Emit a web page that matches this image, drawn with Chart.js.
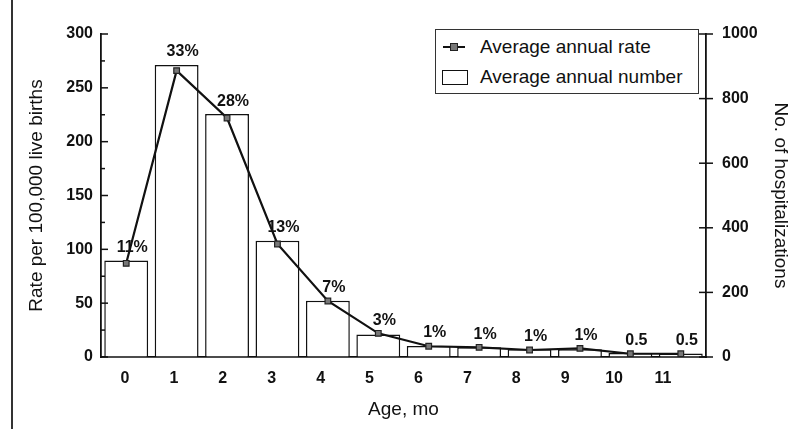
<!doctype html>
<html lang="en">
  <head>
    <meta charset="utf-8">
    <title>Hospitalizations by age in months</title>
    <style>
      * {
        margin: 0;
        padding: 0;
        font-family: "Liberation Sans", Arial, sans-serif;
      }
      body {
        background: #ffffff;
      }
      .chartBox {
        position: relative;
        width: 792px;
        height: 429px;
      }
      .scanEdge {
        position: absolute;
        left: 11px;
        top: 0;
        width: 2px;
        height: 429px;
        background: #333;
      }
      .legendBox {
        position: absolute;
        left: 435px;
        top: 29px;
        width: 262px;
        height: 63px;
        border: 1px solid #333;
        background: #fff;
        color: #111;
        font-size: 19px;
      }
      .legendRow {
        position: absolute;
        left: 0;
        height: 22px;
        line-height: 22px;
      }
      .legendRow span.txt {
        position: absolute;
        left: 44px;
        white-space: nowrap;
      }
      .symLine {
        position: absolute;
        left: 7px;
        top: 10px;
        width: 22px;
        height: 2px;
        background: #111;
      }
      .symLine i {
        position: absolute;
        left: 7px;
        top: -3px;
        width: 6px;
        height: 6px;
        background: #777;
        border: 1px solid #222;
      }
      .symBox {
        position: absolute;
        left: 6px;
        top: 4px;
        width: 24px;
        height: 13px;
        border: 1.5px solid #111;
      }
    </style>
  </head>
  <body>
    <div class="chartBox">
      <canvas id="myChart"></canvas>
      <div class="scanEdge"></div>
      <div class="legendBox">
        <div class="legendRow" style="top: 6px;"><div class="symLine"><i></i></div><span class="txt">Average annual rate</span></div>
        <div class="legendRow" style="top: 36px;"><div class="symBox"></div><span class="txt">Average annual number</span></div>
      </div>
    </div>
    <script src="https://cdn.jsdelivr.net/npm/chart.js"></script>
    <script>
    // data
    const ageMonths = [0, 1, 2, 3, 4, 5, 6, 7, 8, 9, 10, 11];
    const annualRate = [87, 266, 222, 105, 52, 22, 10, 9, 6.5, 8, 3, 3];
    const annualNumber = [299, 904, 752, 360, 174, 70, 34, 30, 24, 24, 12, 11];
    const pctLabels = ['11%', '33%', '28%', '13%', '7%', '3%', '1%', '1%', '1%', '1%', '0.5', '0.5'];
    const rateTicks = [0, 50, 100, 150, 200, 250, 300];
    const numberTicks = [0, 200, 400, 600, 800, 1000];

    const ink = '#111';
    const tickFont = { family: '"Liberation Sans", Arial, sans-serif', size: 16, weight: 'bold' };
    const titleFont = { family: '"Liberation Sans", Arial, sans-serif', size: 19 };

    // percentages above each month + tick marks that point into the plot
    const extrasPlugin = {
      id: 'extras',
      afterDatasetsDraw(chart) {
        const ctx = chart.ctx;
        const pts = chart.getDatasetMeta(0).data;
        const bars = chart.getDatasetMeta(1).data;
        ctx.save();
        ctx.fillStyle = ink;
        ctx.font = 'bold 16px "Liberation Sans", Arial, sans-serif';
        ctx.textAlign = 'center';
        ctx.textBaseline = 'middle';
        pctLabels.forEach((t, i) => {
          const y = Math.min(pts[i].y, bars[i].y) - 13;
          ctx.fillText(t, pts[i].x + 6, y);
        });

        ctx.strokeStyle = ink;
        ctx.lineWidth = 1.5;
        const ys = chart.scales.y;
        ys.ticks.forEach(tk => {
          const py = ys.getPixelForValue(tk.value);
          const len = tk.value % 50 === 0 ? 7 : 4;
          ctx.beginPath();
          ctx.moveTo(ys.right, py);
          ctx.lineTo(ys.right + len, py);
          ctx.stroke();
        });
        const yr = chart.scales.y1;
        yr.ticks.forEach(tk => {
          const py = yr.getPixelForValue(tk.value);
          ctx.beginPath();
          ctx.moveTo(yr.left - 7, py);
          ctx.lineTo(yr.left + 7, py);
          ctx.stroke();
        });
        ctx.restore();
      }
    };

    const data = {
      labels: ageMonths.map(String),
      datasets: [
        {
          type: 'line',
          label: 'Average annual rate',
          data: annualRate,
          yAxisID: 'y',
          borderColor: ink,
          borderWidth: 2.2,
          tension: 0,
          pointStyle: 'rect',
          pointRadius: 4,
          pointBackgroundColor: '#777',
          pointBorderColor: '#222',
          pointBorderWidth: 1.2
        },
        {
          type: 'bar',
          label: 'Average annual number',
          data: annualNumber,
          yAxisID: 'y1',
          backgroundColor: '#ffffff',
          borderColor: ink,
          borderWidth: 1.5,
          barPercentage: 0.87,
          categoryPercentage: 1.0
        }
      ]
    };

    const config = {
      data,
      options: {
        responsive: true,
        maintainAspectRatio: false,
        animation: false,
        layout: { padding: { top: 34, left: 0, right: 0, bottom: 0 } },
        plugins: {
          legend: { display: false },
          tooltip: { enabled: false }
        },
        scales: {
          x: {
            type: 'category',
            display: false
          },
          // label axis: the printed month labels drift slightly left of the bars
          xl: {
            type: 'linear',
            position: 'bottom',
            min: -0.49,
            max: 11.88,
            afterBuildTicks: s => { s.ticks = ageMonths.map(v => ({ value: v })); },
            afterFit: s => { s.height = 72; },
            grid: { display: true, drawOnChartArea: false, drawTicks: false },
            border: { color: ink, width: 1.8 },
            ticks: { autoSkip: false, color: ink, font: tickFont, padding: 12, maxRotation: 0, callback: v => String(v) },
            title: { display: true, text: 'Age, mo', color: ink, font: titleFont, padding: { top: 0, bottom: 8 } }
          },
          y: {
            position: 'left',
            min: 0,
            max: 300,
            afterFit: s => { s.width = 101; },
            grid: { display: true, drawOnChartArea: false, drawTicks: false },
            border: { color: ink, width: 1.8 },
            ticks: {
              stepSize: 25,
              color: ink,
              font: tickFont,
              padding: 8,
              callback: v => rateTicks.includes(v) ? String(v) : ''
            },
            title: { display: true, text: 'Rate per 100,000 live births', color: ink, font: titleFont, padding: { top: 25, bottom: 0 } }
          },
          y1: {
            position: 'right',
            min: 0,
            max: 1000,
            afterFit: s => { s.width = 86; },
            afterBuildTicks: s => { s.ticks = numberTicks.map(v => ({ value: v })); },
            grid: { display: true, drawOnChartArea: false, drawTicks: false },
            border: { color: ink, width: 1.8 },
            ticks: { color: ink, font: tickFont, padding: 16, callback: v => String(v) },
            title: { display: true, text: 'No. of hospitalizations', color: ink, font: titleFont, padding: { top: 0, bottom: 0 } }
          }
        }
      },
      plugins: [extrasPlugin]
    };

    const myChart = new Chart(document.getElementById('myChart'), config);
    </script>
  </body>
</html>
